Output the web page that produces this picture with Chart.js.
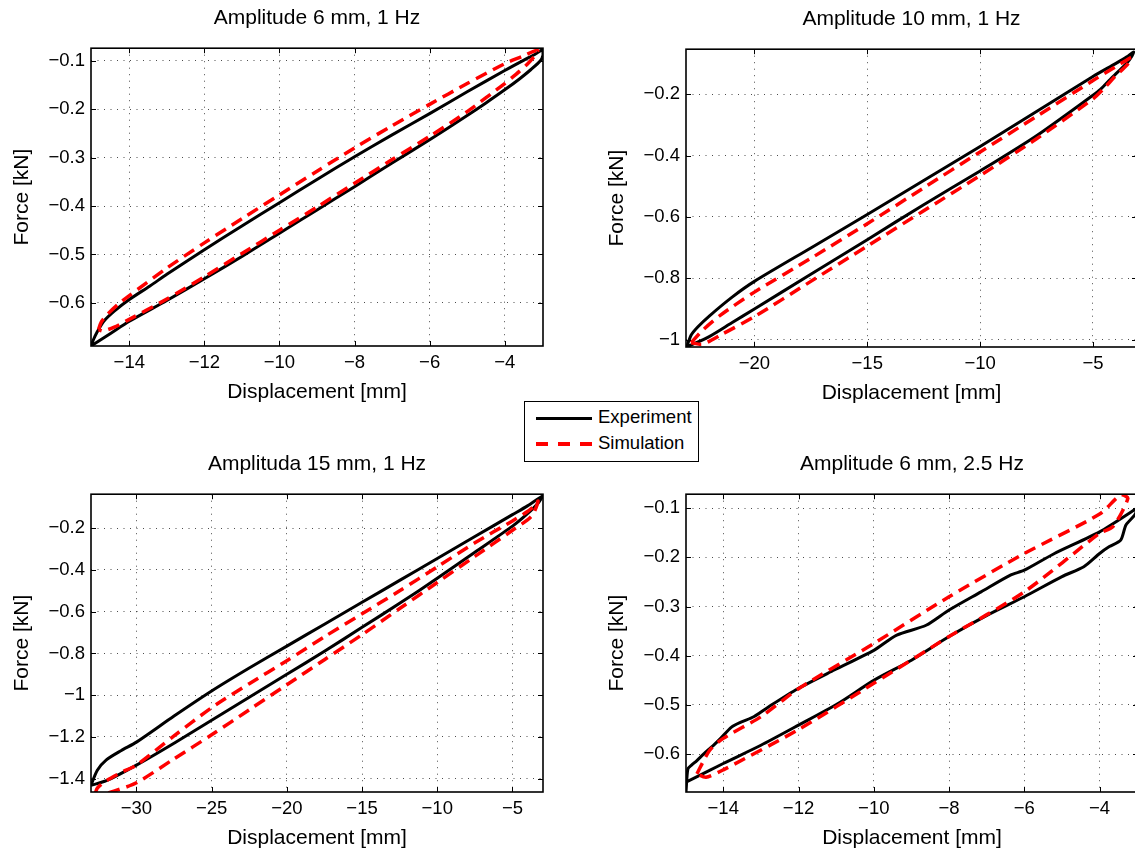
<!DOCTYPE html>
<html>
<head>
<meta charset="utf-8">
<script src="https://cdn.jsdelivr.net/npm/chart.js@4.4.1/dist/chart.umd.min.js"></script>
<style>
  html, body { margin: 0; padding: 0; background: #fff; }
  body { width: 1135px; height: 850px; overflow: hidden; position: relative; font-family: "Liberation Sans", Arial, sans-serif; }
  canvas { position: absolute; }
  #legend { position: absolute; left: 524px; top: 401px; width: 175px; height: 61px; box-sizing: border-box;
            border: 1px solid #000; background: #fff; z-index: 5; }
  #legend .sample { position: absolute; left: 11px; width: 56px; }
  #legend .solid { height: 3px; background: #000; }
  #legend .dash { height: 3.5px; background: repeating-linear-gradient(90deg, #f00 0 12px, transparent 12px 22px); }
  #legend .lbl { position: absolute; left: 73px; font-size: 18.5px; line-height: 20px; color: #000; }
</style>
</head>
<body>
<canvas id="c1" width="560" height="420" style="left:0px;top:0px"></canvas>
<canvas id="c2" width="560" height="420" style="left:595px;top:1px"></canvas>
<canvas id="c3" width="560" height="420" style="left:0px;top:446px"></canvas>
<canvas id="c4" width="560" height="420" style="left:595px;top:446px"></canvas>
<div id="legend">
  <div class="sample solid" style="top:15px"></div><span class="lbl" style="top:5px">Experiment</span>
  <div class="sample dash" style="top:40px"></div><span class="lbl" style="top:31px">Simulation</span>
</div>
<script>
// ---- data (displacement in mm, force in kN) ----
const titles = ['Amplitude 6 mm, 1 Hz', 'Amplitude 10 mm, 1 Hz', 'Amplituda 15 mm, 1 Hz', 'Amplitude 6 mm, 2.5 Hz'];

// panel 1: amplitude 6 mm, 1 Hz
const p1ExpX = [-15.02, -14.95, -14.87, -14.68, -14.4, -14.0, -13.45, -13.0, -12.0, -11.0, -10.0, -9.0, -8.0, -7.0, -6.0, -5.0, -4.0, -3.5, -3.2, -2.99,
                -2.98, -3.05, -3.3, -3.6, -4.0, -4.5, -5.0, -6.0, -7.0, -8.0, -9.0, -10.0, -11.0, -12.0, -13.0, -14.0, -14.5, -15.02];
const p1ExpY = [-0.689, -0.675, -0.662, -0.638, -0.617, -0.593, -0.565, -0.541, -0.49, -0.441, -0.393, -0.345, -0.298, -0.253, -0.209, -0.164, -0.12, -0.099, -0.087, -0.077,
                -0.088, -0.1, -0.118, -0.137, -0.16, -0.187, -0.213, -0.263, -0.311, -0.36, -0.408, -0.456, -0.504, -0.55, -0.595, -0.638, -0.663, -0.689];
const p1SimX = [-14.82, -14.75, -14.6, -14.3, -14.0, -13.0, -12.0, -11.0, -10.0, -9.0, -8.0, -7.0, -6.0, -5.0, -4.0, -3.5, -3.25, -3.12,
                -3.2, -3.4, -3.7, -4.0, -5.0, -6.0, -7.0, -8.0, -9.0, -10.0, -11.0, -12.0, -13.0, -14.0, -14.4, -14.7, -14.82];
const p1SimY = [-0.655, -0.64, -0.625, -0.603, -0.585, -0.528, -0.476, -0.426, -0.377, -0.328, -0.28, -0.234, -0.19, -0.147, -0.106, -0.09, -0.081, -0.079,
                -0.09, -0.107, -0.128, -0.147, -0.205, -0.256, -0.304, -0.353, -0.402, -0.45, -0.498, -0.546, -0.592, -0.634, -0.65, -0.658, -0.655];
const p1XLim = [-15.02, -2.98];
const p1YLim = [-0.689, -0.074];
const p1XTicks = [-14, -12, -10, -8, -6, -4];
const p1YTicks = [-0.6, -0.5, -0.4, -0.3, -0.2, -0.1];

// panel 2: amplitude 10 mm, 1 Hz
const p2ExpX = [-23.0, -22.8, -22.5, -22.0, -21.0, -20.0, -17.5, -15.0, -12.5, -10.0, -7.5, -5.0, -4.0, -3.5, -3.2,
                -3.3, -3.49, -4.23, -4.67, -5.0, -7.5, -10.0, -12.5, -15.0, -17.5, -20.0, -21.0, -22.0, -23.0];
const p2ExpY = [-1.024, -0.985, -0.958, -0.923, -0.862, -0.81, -0.701, -0.592, -0.481, -0.37, -0.256, -0.142, -0.1, -0.078, -0.062,
                -0.078, -0.097, -0.151, -0.184, -0.203, -0.335, -0.45, -0.56, -0.674, -0.787, -0.9, -0.945, -0.99, -1.024];
const p2SimX = [-22.8, -22.3, -21.5, -20.0, -17.5, -15.0, -12.5, -10.0, -7.5, -5.0, -4.0, -3.5, -3.3,
                -3.5, -4.0, -4.5, -5.0, -7.5, -10.0, -12.5, -15.0, -17.5, -20.0, -21.5, -22.3, -22.8];
const p2SimY = [-1.01, -0.97, -0.92, -0.845, -0.735, -0.622, -0.505, -0.388, -0.272, -0.155, -0.11, -0.088, -0.08,
                -0.105, -0.14, -0.18, -0.215, -0.345, -0.465, -0.58, -0.695, -0.81, -0.925, -0.985, -1.015, -1.01];
const p2XLim = [-23.03, -3.05];
const p2YLim = [-1.024, -0.053];
const p2XTicks = [-20, -15, -10, -5];
const p2YTicks = [-1, -0.8, -0.6, -0.4, -0.2];

// panel 3: amplitude 15 mm, 1 Hz
const p3ExpX = [-33.02, -32.6, -32.0, -31.0, -30.0, -27.5, -25.0, -22.5, -20.0, -17.5, -15.0, -12.5, -10.0, -7.5, -5.0, -4.0, -2.98,
                -3.3, -4.0, -5.0, -7.5, -10.0, -12.5, -15.0, -17.5, -20.0, -22.5, -25.0, -27.5, -30.0, -32.0, -33.02];
const p3ExpY = [-1.432, -1.36, -1.31, -1.265, -1.225, -1.1, -0.98, -0.87, -0.765, -0.66, -0.555, -0.45, -0.345, -0.24, -0.135, -0.093, -0.045,
                -0.08, -0.13, -0.19, -0.315, -0.44, -0.56, -0.675, -0.79, -0.9, -1.01, -1.12, -1.23, -1.335, -1.41, -1.432];
const p3SimX = [-32.75, -32.6, -32.0, -31.0, -30.0, -27.5, -25.0, -22.5, -20.0, -17.5, -15.0, -12.5, -10.0, -7.5, -5.0, -4.0, -3.5, -3.3,
                -3.6, -4.0, -5.0, -7.5, -10.0, -12.5, -15.0, -17.5, -20.0, -22.5, -25.0, -27.5, -30.0, -31.5, -32.3, -32.75];
const p3SimY = [-1.475, -1.445, -1.41, -1.37, -1.335, -1.195, -1.06, -0.945, -0.835, -0.72, -0.61, -0.5, -0.385, -0.27, -0.165, -0.12, -0.09, -0.07,
                -0.13, -0.16, -0.21, -0.335, -0.46, -0.585, -0.71, -0.83, -0.95, -1.07, -1.19, -1.305, -1.42, -1.46, -1.475, -1.475];
const p3XLim = [-33.02, -2.97];
const p3YLim = [-1.464, -0.037];
const p3XTicks = [-30, -25, -20, -15, -10, -5];
const p3YTicks = [-1.4, -1.2, -1, -0.8, -0.6, -0.4, -0.2];

// panel 4: amplitude 6 mm, 2.5 Hz
const p4ExpX = [-14.99, -14.94, -14.85, -14.7, -14.51, -14.26, -14.07, -13.78, -13.53, -13.19, -12.8, -12.02, -11.05, -10.0, -9.39, -8.61, -8.0, -7.15, -6.37, -6.0, -5.2, -4.0, -3.07, -2.98,
                -3.07, -3.3, -3.44, -3.74, -4.0, -4.42, -5.0, -6.0, -6.97, -8.0, -9.0, -10.0, -10.95, -12.0, -13.0, -14.0, -14.99];
const p4ExpY = [-0.677, -0.63, -0.623, -0.613, -0.599, -0.582, -0.568, -0.545, -0.535, -0.524, -0.504, -0.467, -0.429, -0.389, -0.358, -0.338, -0.307, -0.27, -0.236, -0.226, -0.192, -0.148, -0.103, -0.098,
                -0.114, -0.134, -0.165, -0.178, -0.192, -0.219, -0.239, -0.28, -0.317, -0.361, -0.409, -0.45, -0.497, -0.541, -0.582, -0.619, -0.657];
const p4SimX = [-14.7, -14.36, -14.0, -13.0, -12.0, -10.0, -8.0, -6.0, -4.0, -3.44, -3.25,
                -3.64, -4.0, -6.0, -8.0, -10.0, -12.0, -14.0, -14.46, -14.7];
const p4SimY = [-0.64, -0.592, -0.568, -0.524, -0.467, -0.375, -0.28, -0.192, -0.112, -0.073, -0.08,
                -0.137, -0.151, -0.27, -0.361, -0.456, -0.55, -0.632, -0.647, -0.64];
const p4XLim = [-14.99, -2.98];
const p4YLim = [-0.677, -0.0715];
const p4XTicks = [-14, -12, -10, -8, -6, -4];
const p4YTicks = [-0.6, -0.5, -0.4, -0.3, -0.2, -0.1];

// ---- drawing ----
Chart.defaults.font.family = '"Liberation Sans", Arial, Helvetica, sans-serif';
Chart.defaults.color = '#000';

const toPts = (xs, ys) => xs.map((x, i) => ({ x: x, y: ys[i] }));
const fmt = v => (v < 0 ? '\u2212' : '') + String(Math.abs(+v.toFixed(2)));

// matlab style box with inward tick marks
const framePlugin = {
  id: 'frame',
  afterDraw(chart) {
    const { ctx, chartArea: a, scales: { x, y } } = chart;
    ctx.save();
    ctx.strokeStyle = '#000';
    ctx.lineWidth = 1;
    ctx.beginPath();
    x.ticks.forEach(t => {
      const px = Math.round(x.getPixelForValue(t.value)) + 0.5;
      ctx.moveTo(px, a.bottom); ctx.lineTo(px, a.bottom - 5);
      ctx.moveTo(px, a.top); ctx.lineTo(px, a.top + 5);
    });
    y.ticks.forEach(t => {
      const py = Math.round(y.getPixelForValue(t.value)) + 0.5;
      ctx.moveTo(a.left, py); ctx.lineTo(a.left + 5, py);
      ctx.moveTo(a.right, py); ctx.lineTo(a.right - 5, py);
    });
    ctx.stroke();
    ctx.lineWidth = 1.6;
    ctx.strokeRect(a.left, a.top, a.right - a.left, a.bottom - a.top);
    ctx.restore();
  }
};

function makePanel(id, title, exp, sim, xLim, yLim, xTicks, yTicks, padRight) {
  const gridLines = { color: 'rgba(0,0,0,0.7)', lineWidth: 1, drawTicks: false };
  return new Chart(document.getElementById(id), {
    type: 'scatter',
    data: {
      datasets: [
        { label: 'Experiment', data: exp, showLine: true, pointRadius: 0, borderColor: '#000',
          borderWidth: 3, tension: 0.25, order: 1 },
        { label: 'Simulation', data: sim, showLine: true, pointRadius: 0, borderColor: '#ff0000',
          borderWidth: 3.5, borderDash: [12, 7], tension: 0.25, order: 0 }
      ]
    },
    options: {
      responsive: false,
      animation: false,
      events: [],
      layout: { padding: { left: 0, top: 0, right: padRight, bottom: 14 } },
      plugins: {
        legend: { display: false },
        tooltip: { enabled: false },
        title: { display: true, text: title, fullSize: false, font: { size: 21, weight: 'normal', lineHeight: 1.2 },
                 padding: { top: 6, bottom: 17 } }
      },
      scales: {
        x: {
          type: 'linear', min: xLim[0], max: xLim[1],
          grid: gridLines,
          border: { display: false, dash: [1, 5.5] },
          ticks: { font: { size: 18.5 }, padding: 6, callback: fmt },
          title: { display: true, text: 'Displacement [mm]', font: { size: 21 }, padding: { top: 0, bottom: 1.5 } },
          afterBuildTicks: s => { s.ticks = xTicks.map(v => ({ value: v })); },
          afterFit: s => { s.height = 60; }
        },
        y: {
          type: 'linear', min: yLim[0], max: yLim[1],
          grid: gridLines,
          border: { display: false, dash: [1, 5.5] },
          ticks: { font: { size: 18.5 }, padding: 6, callback: fmt },
          title: { display: true, text: 'Force [kN]', font: { size: 21 }, padding: { top: 9.5, bottom: 0 } },
          afterBuildTicks: s => { s.ticks = yTicks.map(v => ({ value: v })); },
          afterFit: s => { s.width = 91; }
        }
      }
    },
    plugins: [framePlugin]
  });
}

makePanel('c1', titles[0], toPts(p1ExpX, p1ExpY), toPts(p1SimX, p1SimY), p1XLim, p1YLim, p1XTicks, p1YTicks, 17);
makePanel('c2', titles[1], toPts(p2ExpX, p2ExpY), toPts(p2SimX, p2SimY), p2XLim, p2YLim, p2XTicks, p2YTicks, 18);
makePanel('c3', titles[2], toPts(p3ExpX, p3ExpY), toPts(p3SimX, p3SimY), p3XLim, p3YLim, p3XTicks, p3YTicks, 17);
makePanel('c4', titles[3], toPts(p4ExpX, p4ExpY), toPts(p4SimX, p4SimY), p4XLim, p4YLim, p4XTicks, p4YTicks, 17);
</script>
</body>
</html>
